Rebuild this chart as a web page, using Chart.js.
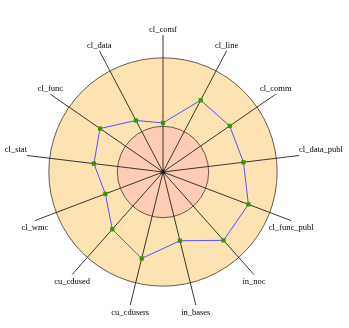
<!DOCTYPE html>
<html>
<head>
<meta charset="utf-8">
<script src="https://cdn.jsdelivr.net/npm/chart.js@4"></script>
<style>
  html, body { margin: 0; padding: 0; background: #fff; }
  canvas { display: block; }
</style>
</head>
<body>
<canvas id="kiviat" width="349" height="328"></canvas>
<script>
// metric names, clockwise from the top
const labels = [
  "cl_comf", "cl_line", "cl_comm", "cl_data_publ", "cl_func_publ", "in_noc",
  "in_bases", "cu_cdusers", "cu_cdused", "cl_wmc", "cl_stat", "cl_func", "cl_data"
];

// values relative to the upper limit (outer ring = 100)
const values = [43, 71, 71, 71, 80, 80, 62, 78, 67, 54, 61, 67, 51];

// lower / upper limit rings and the end of the spokes
const lowerLimit = 40;
const upperLimit = 100;
const spokeEnd = 120;

// rings: fill the two discs under the grid
const ringFill = {
  id: "ringFill",
  beforeDraw(chart) {
    const s = chart.scales.r;
    const ctx = chart.ctx;
    ctx.save();
    ctx.fillStyle = "#fde3b1";
    ctx.beginPath();
    ctx.arc(s.xCenter, s.yCenter, s.getDistanceFromCenterForValue(upperLimit), 0, Math.PI * 2);
    ctx.fill();
    ctx.fillStyle = "#ffcdb4";
    ctx.beginPath();
    ctx.arc(s.xCenter, s.yCenter, s.getDistanceFromCenterForValue(lowerLimit), 0, Math.PI * 2);
    ctx.fill();
    ctx.restore();
  }
};

// labels at the end of each spoke
const spokeLabels = {
  id: "spokeLabels",
  afterDraw(chart) {
    const s = chart.scales.r;
    const ctx = chart.ctx;
    ctx.save();
    ctx.font = "8.5px 'Liberation Serif', 'Times New Roman', serif";
    ctx.fillStyle = "#000";
    labels.forEach((txt, i) => {
      const p = s.getPointPositionForValue(i, spokeEnd);
      const a = (i / labels.length) * Math.PI * 2;
      const sin = Math.sin(a), cos = Math.cos(a);
      if (Math.abs(sin) > 0.98) {
        ctx.textAlign = sin > 0 ? "left" : "right";
        ctx.textBaseline = "middle";
        ctx.fillText(txt, p.x, p.y - 6);
      } else if (cos > 0) {
        ctx.textAlign = "center";
        ctx.textBaseline = "bottom";
        ctx.fillText(txt, p.x, p.y - 1);
      } else {
        ctx.textAlign = "center";
        ctx.textBaseline = "top";
        ctx.fillText(txt, p.x, p.y + 3);
      }
    });
    ctx.restore();
  }
};

new Chart(document.getElementById("kiviat"), {
  type: "radar",
  data: {
    labels,
    datasets: [
      {
        data: values,
        borderColor: "#5555ff",
        borderWidth: 1,
        fill: false,
        tension: 0,
        pointStyle: "rect",
        pointRadius: 3,
        pointBackgroundColor: "#339900",
        pointBorderColor: "#339900",
        pointBorderWidth: 0,
      },
      {
        // small marker at the centre
        data: labels.map(() => 0),
        showLine: false,
        pointStyle: "triangle",
        pointRadius: labels.map((_, i) => (i === 0 ? 3 : 0)),
        pointBackgroundColor: "#000",
        pointBorderColor: "#000",
        pointBorderWidth: 0,
      },
    ],
  },
  options: {
    responsive: false,
    animation: false,
    layout: { padding: { left: 26, right: 49, top: 35, bottom: 19 } },
    plugins: { legend: { display: false }, tooltip: { enabled: false } },
    scales: {
      r: {
        min: 0,
        max: spokeEnd,
        afterBuildTicks: (scale) => {
          scale.ticks = [0, lowerLimit, upperLimit, spokeEnd].map((v) => ({ value: v }));
        },
        ticks: { display: false },
        pointLabels: { display: false },
        grid: {
          circular: true,
          color: (ctx) => (ctx.tick && ctx.tick.value === spokeEnd ? "rgba(0,0,0,0)" : "#6b5a48"),
          lineWidth: 1,
        },
        angleLines: { color: "#3c3630", lineWidth: 1 },
      },
    },
  },
  plugins: [ringFill, spokeLabels],
});
</script>
</body>
</html>
